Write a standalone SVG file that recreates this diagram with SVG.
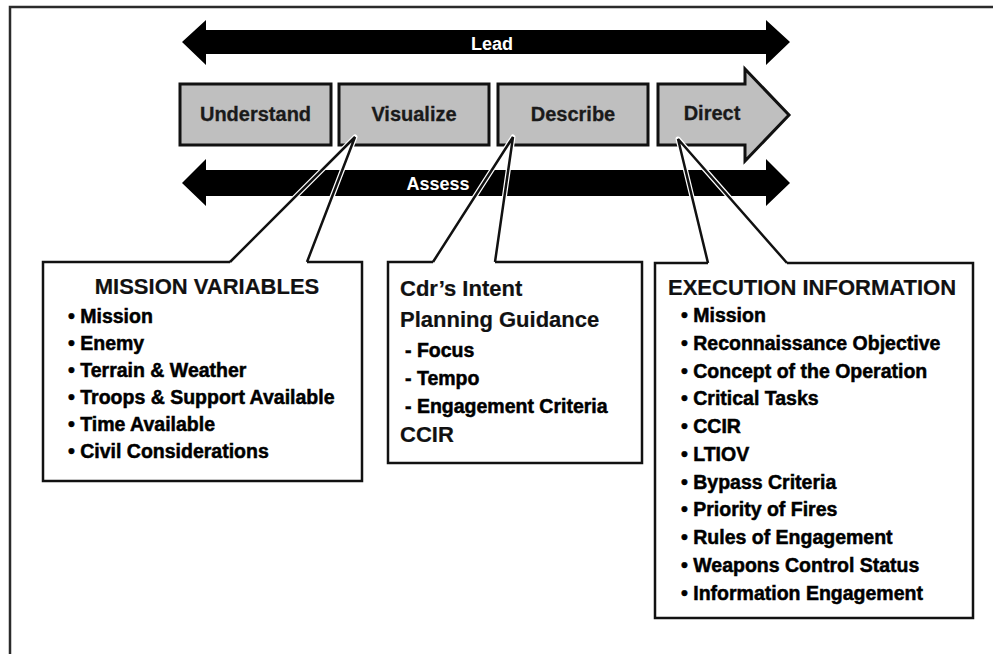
<svg xmlns="http://www.w3.org/2000/svg" width="993" height="654" viewBox="0 0 993 654">
<style>
.frame{fill:none;stroke:#2b2b2b;stroke-width:2.5}
.band{fill:#000}
.band-t{font-family:"Liberation Sans",Arial,sans-serif;font-weight:bold;font-size:18px;fill:#fff;text-anchor:middle}
.step{fill:#bfbfbf;stroke:#111;stroke-width:3}
.step-t{font-family:"Liberation Sans",Arial,sans-serif;font-weight:bold;font-size:20px;fill:#1a1a1a;text-anchor:middle;stroke:#1a1a1a;stroke-width:0.3}
.body{fill:#fff;stroke:none}
.edge{fill:none;stroke:#111;stroke-width:2.5;stroke-linejoin:miter}
.halo{fill:none;stroke:#fff;stroke-width:5;stroke-linejoin:round}
.ptr{fill:none;stroke:#111;stroke-width:2.5;stroke-linejoin:miter}
.hd{font-family:"Liberation Sans",Arial,sans-serif;font-weight:bold;font-size:22px;fill:#111;stroke:#111;stroke-width:0.2}
.it{font-family:"Liberation Sans",Arial,sans-serif;font-weight:bold;font-size:19.5px;fill:#000;stroke:#000;stroke-width:0.5}
</style>
<rect width="993" height="654" fill="#fff"/>
<path class="frame" d="M10,654 V7 H993"/>
<g id="connectors">
  <g id="lead">
    <polygon class="band" points="182,42 206,20 206,30 766,30 766,20 790,42 766,65 766,54 206,54 206,65"/>
    <text class="band-t" x="492" y="50">Lead</text>
  </g>
  <g id="assess">
    <polygon class="band" points="182,183 206,159 206,170 766,170 766,159 790,183 766,206 766,196 206,196 206,206"/>
    <text class="band-t" x="438" y="190">Assess</text>
  </g>
</g>
<g id="understand">
  <rect class="step" x="180" y="84" width="151" height="61"/>
  <text class="step-t" x="255.5" y="121">Understand</text>
</g>
<g id="visualize">
  <rect class="step" x="339" y="84" width="150" height="61"/>
  <text class="step-t" x="414" y="121">Visualize</text>
</g>
<g id="describe">
  <rect class="step" x="498" y="84" width="150" height="61"/>
  <text class="step-t" x="573" y="121">Describe</text>
</g>
<g id="direct">
  <polygon class="step" points="658,84 745,84 745,69 789,115 745,161 745,145 658,145"/>
  <text class="step-t" x="712" y="120">Direct</text>
</g>
<g id="mission-variables">
  <rect class="body" x="43" y="262" width="319" height="219"/>
  <path class="halo" d="M230,262 L355,137 L307,262"/>
  <path class="ptr" d="M230,262 L355,137 L307,262"/>
  <path class="edge" d="M230,262 H43 V481 H362 V262 H307"/>
  <text class="hd" x="207" y="294" text-anchor="middle">MISSION VARIABLES</text>
  <text class="it" x="68" y="323">• Mission</text>
  <text class="it" x="68" y="350">• Enemy</text>
  <text class="it" x="68" y="377">• Terrain &amp; Weather</text>
  <text class="it" x="68" y="404">• Troops &amp; Support Available</text>
  <text class="it" x="68" y="431">• Time Available</text>
  <text class="it" x="68" y="458">• Civil Considerations</text>
</g>
<g id="cdrs-intent">
  <rect class="body" x="388" y="262" width="254" height="201"/>
  <path class="halo" d="M433,262 L513,137 L495,262"/>
  <path class="ptr" d="M433,262 L513,137 L495,262"/>
  <path class="edge" d="M433,262 H388 V463 H642 V262 H495"/>
  <text class="hd" x="400" y="296">Cdr’s Intent</text>
  <text class="hd" x="400" y="327">Planning Guidance</text>
  <text class="it" x="405" y="357">- Focus</text>
  <text class="it" x="405" y="385">- Tempo</text>
  <text class="it" x="405" y="413">- Engagement  Criteria</text>
  <text class="hd" x="400" y="442">CCIR</text>
</g>
<g id="execution-information">
  <rect class="body" x="655" y="263" width="318" height="355"/>
  <path class="halo" d="M708,263 L678,139 L787,263"/>
  <path class="ptr" d="M708,263 L678,139 L787,263"/>
  <path class="edge" d="M708,263 H655 V618 H973 V263 H787"/>
  <text class="hd" x="668" y="295">EXECUTION INFORMATION</text>
  <text class="it" x="681" y="322">• Mission</text>
  <text class="it" x="681" y="350">• Reconnaissance Objective</text>
  <text class="it" x="681" y="378">• Concept of the Operation</text>
  <text class="it" x="681" y="405">• Critical Tasks</text>
  <text class="it" x="681" y="433">• CCIR</text>
  <text class="it" x="681" y="461">• LTIOV</text>
  <text class="it" x="681" y="489">• Bypass Criteria</text>
  <text class="it" x="681" y="516">• Priority of Fires</text>
  <text class="it" x="681" y="544">• Rules of Engagement</text>
  <text class="it" x="681" y="572">• Weapons Control Status</text>
  <text class="it" x="681" y="600">• Information Engagement</text>
</g>
</svg>
